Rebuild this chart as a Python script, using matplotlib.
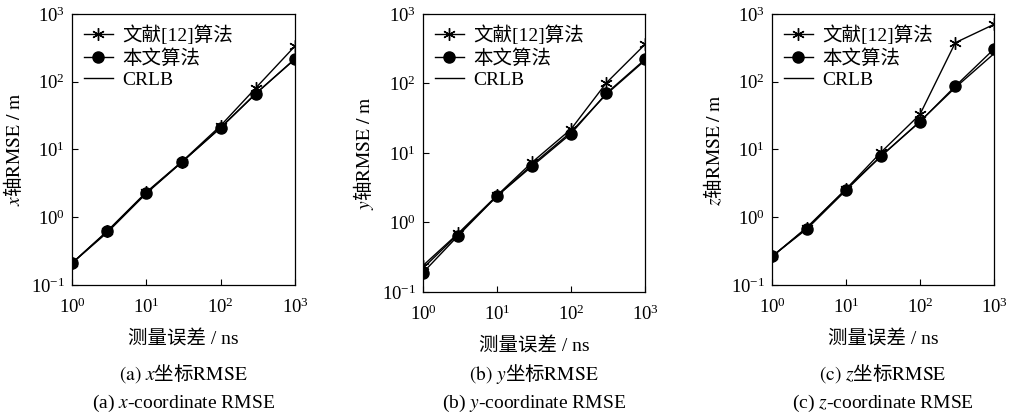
import numpy as np
import matplotlib
matplotlib.use('Agg')
import matplotlib.pyplot as plt

plt.rcParams['font.family'] = ['Liberation Serif', 'Noto Sans CJK SC']
plt.rcParams['mathtext.fontset'] = 'stix'

noise = [1, 3, 10, 30, 100, 300, 1000]

# x axis RMSE
ref_x = [0.21, 0.63, 2.35, 6.6, 22.5, 82, 336]
ours_x = [0.21, 0.62, 2.3, 6.5, 21, 67, 219]
crlb_x = [0.21, 0.60, 2.25, 6.5, 21, 68, 215]

# y axis RMSE
ref_y = [0.24, 0.70, 2.45, 7.4, 22, 102, 365]
ours_y = [0.19, 0.65, 2.4, 6.5, 19, 72, 222]
crlb_y = [0.22, 0.68, 2.4, 6.8, 20, 70, 215]

# z axis RMSE
ref_z = [0.265, 0.70, 2.6, 9.2, 33, 377, 703]
ours_z = [0.265, 0.68, 2.5, 8.1, 25.7, 86, 304]
crlb_z = [0.26, 0.72, 2.6, 8.0, 26, 82, 260]

panels = [
    ('x', ref_x, ours_x, crlb_x, 'a'),
    ('y', ref_y, ours_y, crlb_y, 'b'),
    ('z', ref_z, ours_z, crlb_z, 'c'),
]

# axes boxes in pixels: left, right, top, bottom
boxes = [(72, 295, 14, 285), (423, 645, 14, 292), (772, 994, 14, 285)]

W, H = 1019, 415
fig = plt.figure(figsize=(W / 100, H / 100), dpi=100)

cjk = 'Noto Sans CJK SC'

for (ax_name, ref, ours, crlb, tag), (l, r, t, b) in zip(panels, boxes):
    ax = fig.add_axes([l / W, 1 - b / H, (r - l) / W, (b - t) / H])
    ax.plot(noise, ref, color='black', lw=1.0, marker=(6, 2, 0), ms=9,
            mew=1.0, label='文献[12]算法')
    ax.plot(noise, ours, color='black', lw=1.0, marker='o', ms=8,
            label='本文算法')
    ax.plot(noise, crlb, color='black', lw=1.0, label='CRLB')
    ax.set_xscale('log')
    ax.set_yscale('log')
    ax.set_xlim(1, 1000)
    ax.set_ylim(0.1, 1000)
    ax.set_xticks([1, 10, 100, 1000])
    ax.set_yticks([0.1, 1, 10, 100, 1000])
    ax.minorticks_off()
    ax.tick_params(direction='in', length=4, width=0.8, labelsize=13.5)
    ax.tick_params(axis='x', pad=9)
    ax.tick_params(axis='y', pad=5)
    for s in ax.spines.values():
        s.set_linewidth(0.9)
    ax.set_ylabel(r'$%s$轴$\mathrm{RMSE\ /\ m}$' % ax_name, fontsize=14,
                  family=cjk, labelpad=4)
    ax.set_xlabel('测量误差 / ns', fontsize=14, labelpad=10)
    ax.legend(loc='upper left', frameon=False, fontsize=14,
              handlelength=1.5, handletextpad=0.5, labelspacing=0.2,
              borderaxespad=0.2)
    cx = (l + r) / 2 / W
    fig.text(cx, 1 - 374 / H,
             r'$\mathrm{(%s)}\ %s$坐标$\mathrm{RMSE}$' % (tag, ax_name),
             ha='center', va='center', fontsize=14, family=cjk)
    fig.text(cx, 1 - 403 / H, r'(%s) $%s$-coordinate RMSE' % (tag, ax_name),
             ha='center', va='center', fontsize=14)

fig.savefig('out.png', dpi=100)
